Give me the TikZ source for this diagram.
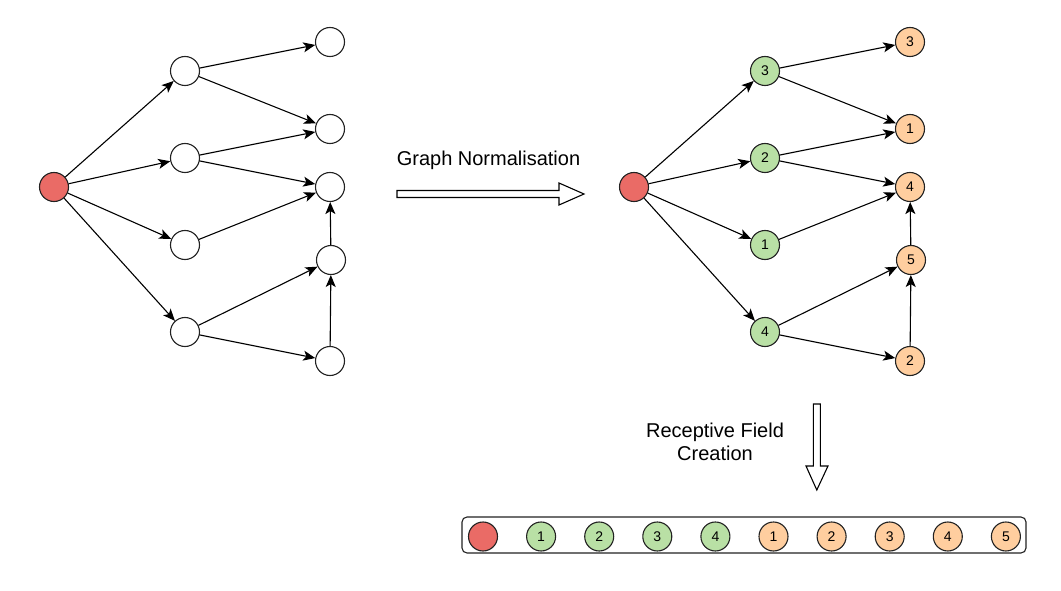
\documentclass[tikz,border=0pt]{standalone}
\usepackage{fontspec}
\setmainfont{Liberation Sans}
\usetikzlibrary{arrows.meta}
\definecolor{nodered}{HTML}{EA6B66}
\definecolor{nodegreen}{HTML}{B9E0A5}
\definecolor{nodeorange}{HTML}{FFCE9F}
\definecolor{outl}{HTML}{222222}
\tikzset{
  vtx/.style={circle, draw=outl, line width=1.1pt, minimum size=29pt, inner sep=0pt, fill=white, font=\fontsize{14}{16}\selectfont},
  rootv/.style={vtx, fill=nodered},
  greenv/.style={vtx, fill=nodegreen},
  orangev/.style={vtx, fill=nodeorange},
  edge/.style={line width=1.1pt, -{Stealth[length=12pt,width=10pt,inset=3pt]}},
  hollow/.style={draw=black, line width=1.1pt, fill=white, line join=miter},
  lbl/.style={font=\fontsize{20}{23}\selectfont, align=center}
}
\begin{document}
\begin{tikzpicture}[x=1pt,y=-1pt]
\useasboundingbox (0,0) rectangle (1061,591);
% left graph
\node[rootv] (r) at (54,187) {};
\node[vtx] (a) at (185,71) {};
\node[vtx] (b) at (185,158) {};
\node[vtx] (c) at (185,245) {};
\node[vtx] (d) at (185,332) {};
\node[vtx] (p1) at (330,42) {};
\node[vtx] (p2) at (330,129) {};
\node[vtx] (p3) at (330,187) {};
\node[vtx] (p4) at (331,260) {};
\node[vtx] (p5) at (330,361) {};
\foreach \s/\t in {r/a,r/b,r/c,r/d,a/p1,a/p2,b/p2,b/p3,c/p3,d/p4,d/p5,p5/p4,p4/p3}
  \draw[edge] (\s) -- (\t);
% right graph
\node[rootv] (R) at (634,187) {};
\node[greenv] (A) at (765,71) {3};
\node[greenv] (B) at (765,158) {2};
\node[greenv] (C) at (765,245) {1};
\node[greenv] (D) at (765,332) {4};
\node[orangev] (P1) at (910,42) {3};
\node[orangev] (P2) at (910,129) {1};
\node[orangev] (P3) at (910,187) {4};
\node[orangev] (P4) at (911,260) {5};
\node[orangev] (P5) at (910,361) {2};
\foreach \s/\t in {R/A,R/B,R/C,R/D,A/P1,A/P2,B/P2,B/P3,C/P3,D/P4,D/P5,P5/P4,P4/P3}
  \draw[edge] (\s) -- (\t);
% graph normalisation arrow
\node[lbl] (gn) at (488.5,160) {Graph Normalisation};
\draw[hollow] (397,190.5) -- (559,190.5) -- (559,183) -- (584,194) -- (559,205) -- (559,197.5) -- (397,197.5) -- cycle;
% receptive field arrow
\node[lbl] (rf) at (715,442) {Receptive Field\\Creation};
\draw[hollow] (813.3,404) -- (820.3,404) -- (820.3,466) -- (828,466) -- (816.8,490) -- (806,466) -- (813.3,466) -- cycle;
% receptive field box
\draw[line width=1.1pt, draw=outl, rounded corners=5pt] (462,517) rectangle (1026,553);
\node[rootv] (f0) at (483,536.5) {};
\foreach \i/\l in {1/1,2/2,3/3,4/4}
  \node[greenv] (f\i) at ({483+58.1*\i},536.5) {\l};
\foreach \i/\l in {5/1,6/2,7/3,8/4,9/5}
  \node[orangev] (f\i) at ({483+58.1*\i},536.5) {\l};
\end{tikzpicture}
\end{document}
